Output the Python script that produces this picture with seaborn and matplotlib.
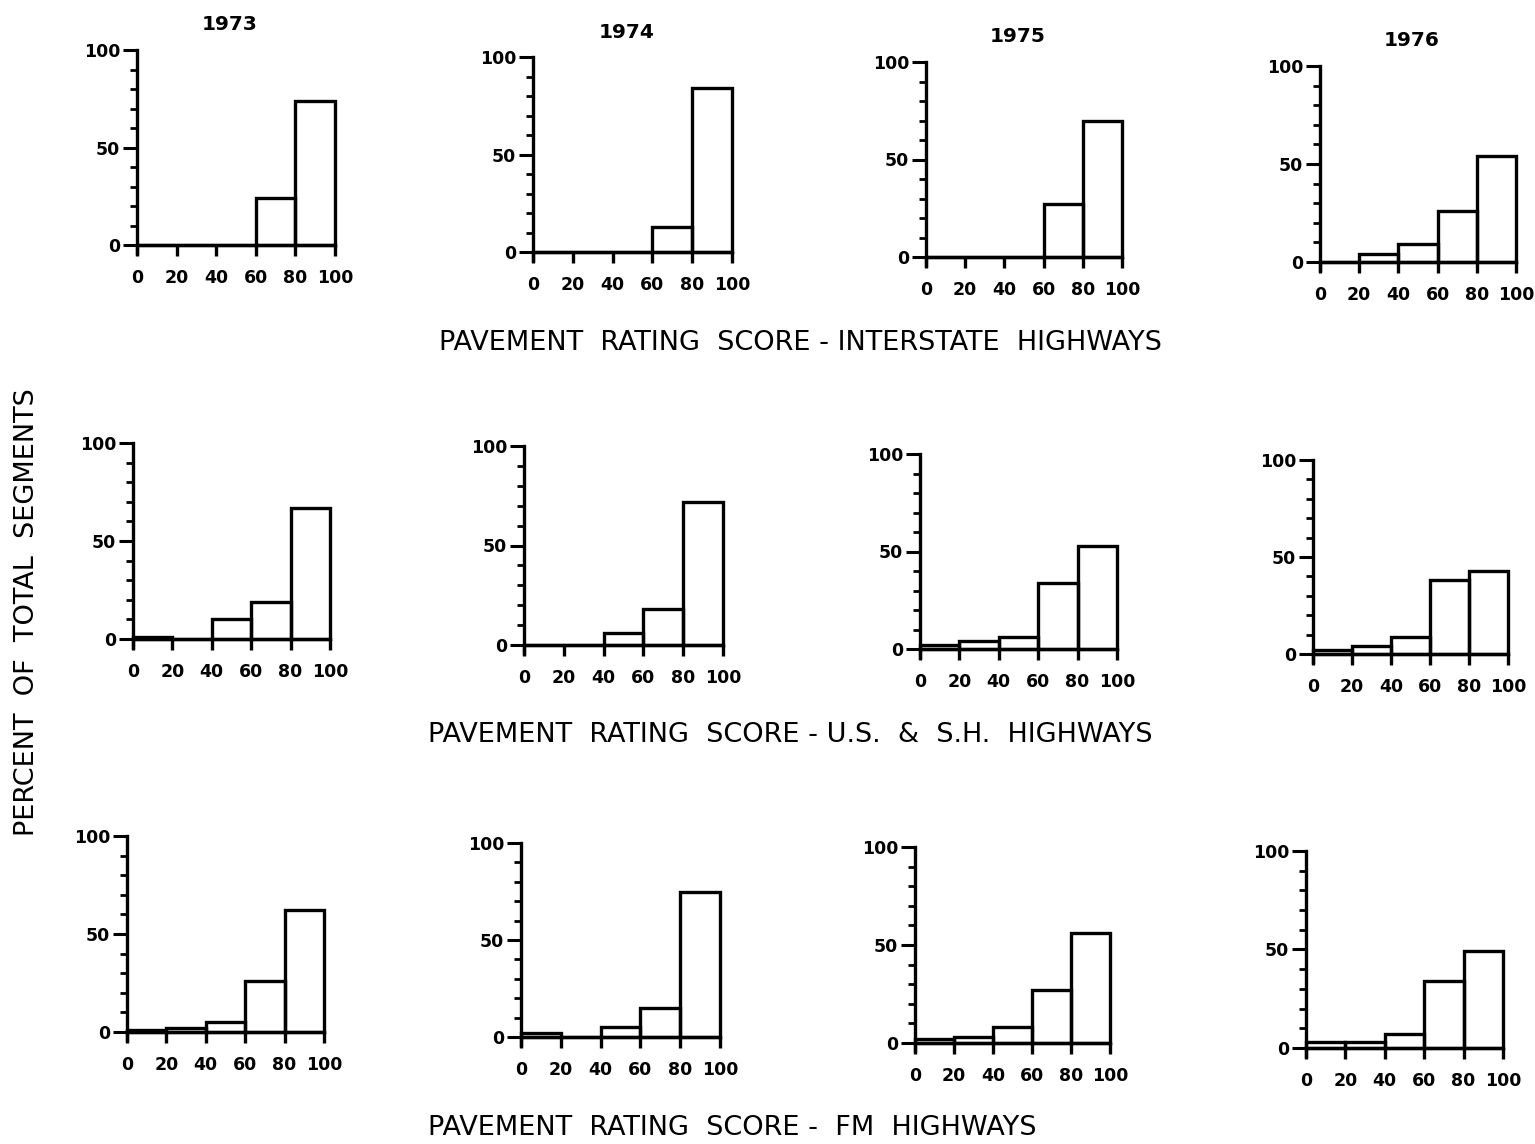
import numpy as np
import pandas as pd
import seaborn as sns
import matplotlib.pyplot as plt
from matplotlib.ticker import MultipleLocator

sns.set_theme(style="white")
plt.rcParams['font.family'] = ['DejaVu Sans']
plt.rcParams['text.color'] = 'black'
plt.rcParams['xtick.color'] = 'black'
plt.rcParams['ytick.color'] = 'black'

# bins of the pavement rating score
bin_edges = [0, 20, 40, 60, 80, 100]
bin_mids = [10, 30, 50, 70, 90]
years = ["1973", "1974", "1975", "1976"]
highway_labels = [
    "PAVEMENT  RATING  SCORE - INTERSTATE  HIGHWAYS",
    "PAVEMENT  RATING  SCORE - U.S.  &  S.H.  HIGHWAYS",
    "PAVEMENT  RATING  SCORE -  FM  HIGHWAYS",
]
ylabel_text = "PERCENT  OF  TOTAL  SEGMENTS"

# percent of total segments per bin (0-20, 20-40, 40-60, 60-80, 80-100)
interstate_1973 = [0, 0, 0, 24, 74]
interstate_1974 = [0, 0, 0, 13, 84]
interstate_1975 = [0, 0, 0, 27, 70]
interstate_1976 = [0, 4, 9, 26, 54]

ussh_1973 = [1, 0, 10, 19, 67]
ussh_1974 = [0, 0, 6, 18, 72]
ussh_1975 = [2, 4, 6, 34, 53]
ussh_1976 = [2, 4, 9, 38, 43]

fm_1973 = [1, 2, 5, 26, 62]
fm_1974 = [2, 0, 5, 15, 75]
fm_1975 = [2, 3, 8, 27, 56]
fm_1976 = [3, 3, 7, 34, 49]

dados = [
    [interstate_1973, interstate_1974, interstate_1975, interstate_1976],
    [ussh_1973, ussh_1974, ussh_1975, ussh_1976],
    [fm_1973, fm_1974, fm_1975, fm_1976],
]

W, H = 1535, 1144
# pixel frame of each panel: x at 0, x at 100, y at 100, y at 0
caixas = [
    [(137, 335, 50, 245), (533, 732, 57, 252), (926, 1122, 62, 257), (1320, 1516, 66, 262)],
    [(133, 330, 443, 639), (524, 723, 446, 645), (920, 1117, 454, 649), (1313, 1508, 460, 654)],
    [(127, 324, 836, 1032), (521, 720, 843, 1037), (915, 1110, 847, 1043), (1306, 1503, 851, 1048)],
]
YMIN = -4

fig = plt.figure(figsize=(W / 100, H / 100), dpi=100)

for r in range(3):
    for c in range(4):
        x0, x1, ytop, ybot = caixas[r][c]
        altura = ybot - ytop
        pix_min = ybot + (-YMIN) / 100 * altura
        ax = fig.add_axes([x0 / W, 1 - pix_min / H, (x1 - x0) / W, (pix_min - ytop) / H])

        df = pd.DataFrame({"score": bin_mids, "pct": dados[r][c]})
        sns.histplot(data=df, x="score", weights="pct", bins=bin_edges,
                     fill=False, element="bars", color="black",
                     linewidth=2.4, ax=ax)
        for p in ax.patches:
            p.set_clip_on(False)

        ax.set_xlim(0, 100)
        ax.set_ylim(YMIN, 100)
        ax.set_xlabel("")
        ax.set_ylabel("")
        sns.despine(ax=ax)
        ax.spines['bottom'].set_position(('data', 0))
        for s in ['left', 'bottom']:
            ax.spines[s].set_linewidth(2.4)
            ax.spines[s].set_color("black")

        ax.set_xticks([0, 20, 40, 60, 80, 100])
        ax.set_yticks([0, 50, 100])
        ax.yaxis.set_minor_locator(MultipleLocator(10))
        ax.tick_params(axis='x', direction='out', length=8, width=2.4,
                       pad=9, labelsize=12.5, bottom=True)
        ax.tick_params(axis='y', which='major', direction='out', length=10,
                       width=2.2, pad=2, labelsize=12.5, left=True)
        ax.tick_params(axis='y', which='minor', direction='out', length=5,
                       width=2.0, left=True)
        for lab in ax.get_xticklabels() + ax.get_yticklabels():
            lab.set_fontweight('bold')
        ax.patch.set_alpha(0)

# years over the first row
for c, ano in enumerate(years):
    x0, x1, ytop, ybot = caixas[0][c]
    fig.text((x0 + x1) / 2 / W - 0.004, 1 - (ytop - 25) / H, ano,
             ha='center', va='center', fontsize=14.5, fontweight='bold')

# row captions
posicoes_legenda = [(800, 343), (790, 735), (732, 1128)]
for (cx, cy), txt in zip(posicoes_legenda, highway_labels):
    fig.text(cx / W, 1 - cy / H, txt, ha='center', va='center', fontsize=19.5)

fig.text(27 / W, 1 - 612 / H, ylabel_text, rotation=90,
         ha='center', va='center', fontsize=19.5)

plt.savefig("out.png", dpi=100)
plt.close()
